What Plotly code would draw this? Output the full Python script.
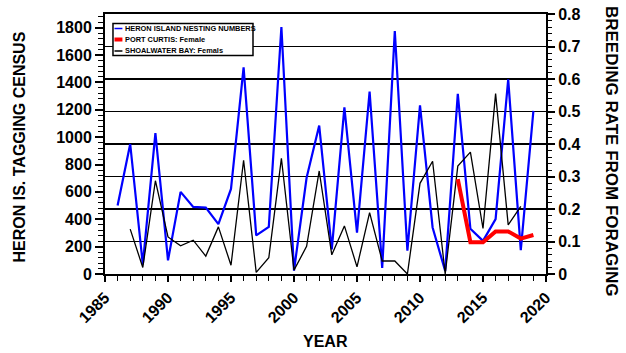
import plotly.graph_objects as go

# Heron Island tagging census (left axis)
heron_years = list(range(1986, 2020))
heron_counts = [500, 950, 70, 1030, 100, 600, 490, 485, 364, 622,
                1510, 282, 345, 1805, 25, 703, 1085, 180, 1218, 302,
                1333, 45, 1775, 170, 1232, 340, 22, 1316, 330, 242,
                401, 1422, 174, 1192]

# Shoalwater Bay breeding rate, females (right axis)
shoal_years = list(range(1987, 2019))
shoal_rate = [0.138, 0.02, 0.287, 0.114, 0.087, 0.104, 0.055, 0.145, 0.027, 0.35,
              0.005, 0.05, 0.356, 0.012, 0.085, 0.317, 0.059, 0.148, 0.022, 0.189,
              0.04, 0.04, 0.0, 0.279, 0.347, 0.0, 0.332, 0.375, 0.14, 0.555,
              0.151, 0.208]

# Port Curtis breeding rate, females (right axis)
curtis_years = list(range(2013, 2020))
curtis_rate = [0.292, 0.098, 0.098, 0.131, 0.131, 0.109, 0.12]

legend_labels = ["HERON ISLAND NESTING NUMBERS", "PORT CURTIS: Female", "SHOALWATER BAY: Femals"]
legend_colors = ["#0000FF", "#FF0000", "#000000"]
legend_widths = [1.5, 4, 1.5]

FONT = "Liberation Sans, Arial, sans-serif"

fig = go.Figure()

# helper trace so the heavy grid axis is drawn
fig.add_trace(go.Scatter(x=[None], y=[None], yaxis="y3", showlegend=False, hoverinfo="skip"))

fig.add_trace(go.Scatter(x=shoal_years, y=shoal_rate, yaxis="y2", mode="lines",
                         line=dict(color="#000000", width=1.3), name=legend_labels[2],
                         showlegend=False))
fig.add_trace(go.Scatter(x=heron_years, y=heron_counts, yaxis="y", mode="lines",
                         line=dict(color="#0000FF", width=2.2), name=legend_labels[0],
                         showlegend=False))
fig.add_trace(go.Scatter(x=curtis_years, y=curtis_rate, yaxis="y2", mode="lines",
                         line=dict(color="#FF0000", width=4), name=legend_labels[1],
                         showlegend=False))

tickfont = dict(family=FONT, size=16, color="black", weight="bold")

fig.update_layout(
    width=626, height=353,
    margin=dict(l=105, r=80, t=14, b=79, pad=0, autoexpand=False),
    plot_bgcolor="white", paper_bgcolor="white",
    font=dict(family=FONT, size=16, color="black", weight="bold"),
    showlegend=False,
    xaxis=dict(
        range=[1985, 2020], dtick=5, tick0=1985,
        tickangle=-45, tickfont=tickfont, automargin=False,
        ticks="outside", ticklen=6, tickwidth=1.5, tickcolor="black",
        minor=dict(dtick=1, ticks="outside", ticklen=5, tickwidth=1.2, tickcolor="black"),
        showline=True, linewidth=2, linecolor="black", mirror=True,
        showgrid=False, zeroline=False,
    ),
    yaxis=dict(
        range=[0, 1900], dtick=200, tick0=0, tickfont=tickfont, automargin=False,
        ticks="outside", ticklen=8, tickwidth=1.5, tickcolor="black",
        minor=dict(dtick=40, ticks="outside", ticklen=5, tickwidth=1.2, tickcolor="black"),
        showline=True, linewidth=2, linecolor="black",
        showgrid=False, zeroline=False,
    ),
    yaxis2=dict(
        range=[0, 0.8], overlaying="y", side="right",
        tickfont=tickfont, automargin=False,
        ticks="outside", ticklen=7, tickwidth=1.5, tickcolor="black",
        minor=dict(dtick=0.02, ticks="outside", ticklen=4, tickwidth=1.2, tickcolor="black"),
        showline=True, linewidth=2, linecolor="black",
        showgrid=True, gridcolor="black", gridwidth=1, zeroline=False,
        tickvals=[0, 0.1, 0.2, 0.3, 0.4, 0.5, 0.6, 0.7, 0.8],
        ticktext=["0", "0.1", "0.2", "0.3", "0.4", "0.5", "0.6", "0.7", "0.8"],
    ),
    yaxis3=dict(
        range=[0, 0.8], dtick=0.2, tick0=0, overlaying="y", side="right",
        showticklabels=False, ticks="", showline=False, automargin=False,
        showgrid=True, gridcolor="black", gridwidth=2.2, zeroline=False,
    ),
)

# axis titles
fig.add_annotation(text="YEAR", xref="paper", yref="paper",
                   x=0.5, y=-0.2577, xanchor="center", yanchor="middle",
                   showarrow=False,
                   font=dict(family=FONT, size=16, color="black", weight="bold"))
fig.add_annotation(text="HERON IS. TAGGING CENSUS", xref="paper", yref="paper",
                   x=-0.193, y=0.49, xanchor="center", yanchor="middle",
                   textangle=-90, showarrow=False,
                   font=dict(family=FONT, size=16, color="black", weight="bold"))
fig.add_annotation(text="BREEDING RATE FROM FORAGING", xref="paper", yref="paper",
                   x=1.147, y=0.47, xanchor="center", yanchor="middle",
                   textangle=90, showarrow=False,
                   font=dict(family=FONT, size=17, color="black", weight="bold"))

# legend box
fig.add_shape(type="rect", xref="paper", yref="paper",
              x0=0.0181, x1=0.3356, y0=0.8404, y1=0.9635,
              line=dict(color="black", width=1.5), fillcolor="white", layer="above")
row_y = [0.9442, 0.9019, 0.8577]
for lab, col, w, yy in zip(legend_labels, legend_colors, legend_widths, row_y):
    fig.add_shape(type="line", xref="paper", yref="paper",
                  x0=0.0215, x1=0.0395, y0=yy, y1=yy,
                  line=dict(color=col, width=w), layer="above")
    fig.add_annotation(text=lab, xref="paper", yref="paper", x=0.040, y=yy,
                       xanchor="left", yanchor="middle", showarrow=False,
                       font=dict(family=FONT, size=7.4, color="black", weight="bold"))

fig.write_html("out.html")
